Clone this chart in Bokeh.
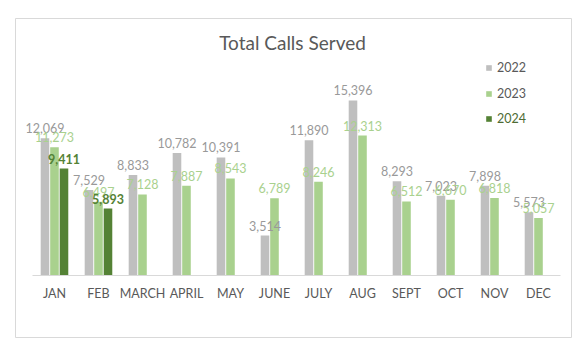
import numpy as np
from bokeh.plotting import figure
from bokeh.models import (ColumnDataSource, Range1d, FixedTicker, Label, Legend, LegendItem)
from bokeh.core.properties import value
from bokeh.embed import file_html
from bokeh.resources import INLINE

months = ["JAN", "FEB", "MARCH", "APRIL", "MAY", "JUNE", "JULY", "AUG", "SEPT", "OCT", "NOV", "DEC"]
calls_2022 = [12069, 7529, 8833, 10782, 10391, 3514, 11890, 15396, 8293, 7023, 7898, 5573]
calls_2023 = [11273, 6497, 7128, 7887, 8543, 6789, 8246, 12313, 6512, 6670, 6818, 5057]
months_2024 = ["JAN", "FEB"]
calls_2024 = [9411, 5893]

FONT = "Lato"
C22, C23, C24 = "#bfbfbf", "#a9d18e", "#548235"
OFF = 0.216
W = 0.195

idx = {m: i for i, m in enumerate(months)}
s22 = ColumnDataSource(dict(x=[idx[m] - OFF for m in months], top=calls_2022,
                            lab=[f"{v:,}" for v in calls_2022]))
s23 = ColumnDataSource(dict(x=[idx[m] for m in months], top=calls_2023,
                            lab=[f"{v:,}" for v in calls_2023]))
s24 = ColumnDataSource(dict(x=[idx[m] + OFF for m in months_2024], top=calls_2024,
                            lab=[f"{v:,}" for v in calls_2024]))

p = figure(width=584, height=352, output_backend="svg", toolbar_location=None,
           x_range=Range1d(-0.886, 11.75), y_range=Range1d(-5455, 22610),
           min_border_left=15, min_border_right=13, min_border_top=18, min_border_bottom=15)
p.outline_line_color = "#d9d9d9"
p.outline_line_width = 1
p.xgrid.visible = False
p.ygrid.visible = False
p.yaxis.visible = False
p.background_fill_color = "white"
p.border_fill_color = "white"

r22 = p.vbar(x="x", top="top", width=W, bottom=0, source=s22, color=C22, line_color=None)
r23 = p.vbar(x="x", top="top", width=W, bottom=0, source=s23, color=C23, line_color=None)
r24 = p.vbar(x="x", top="top", width=W, bottom=0, source=s24, color=C24, line_color=None)

common = dict(text_font=value(FONT), text_font_size="12.5px", text_align="center",
              text_baseline="alphabetic", y_offset=-10)
p.text(x="x", y="top", text="lab", source=s22, text_color="#999999", **common)
p.text(x="x", y="top", text="lab", source=s23, text_color=C23, **common)
p.text(x="x", y="top", text="lab", source=s24, text_color=C24, text_font_style="bold", **common)

ax = p.xaxis[0]
ax.fixed_location = 0
ax.bounds = (-0.5, 11.5)
ax.ticker = FixedTicker(ticks=list(range(len(months))))
ax.major_label_overrides = {i: m for i, m in enumerate(months)}
ax.major_tick_line_color = None
ax.minor_tick_line_color = None
ax.axis_line_color = "#d9d9d9"
ax.major_label_text_font = FONT
ax.major_label_text_font_size = "12.5px"
ax.major_label_text_color = "#595959"
ax.major_label_standoff = 5

p.add_layout(Label(x=277, y=295, x_units="screen", y_units="screen", text="Total Calls Served",
                   text_font=FONT, text_font_size="19px", text_color="#595959",
                   text_align="center", text_baseline="middle"))

def mk_legend(items, y, color):
    lg = Legend(items=items, location=(470, y), orientation="vertical",
                glyph_width=7, glyph_height=7, label_standoff=5,
                label_height=14, spacing=11, padding=0, margin=0,
                border_line_color=None, background_fill_alpha=0,
                label_text_font=FONT, label_text_font_size="12.5px",
                label_text_color=color)
    p.add_layout(lg)

mk_legend([LegendItem(label="2022", renderers=[r22]), LegendItem(label="2023", renderers=[r23])],
          236, "#595959")
mk_legend([LegendItem(label="2024", renderers=[r24])], 211, "#4e6b34")

open("out.html", "w").write(file_html(p, INLINE))
